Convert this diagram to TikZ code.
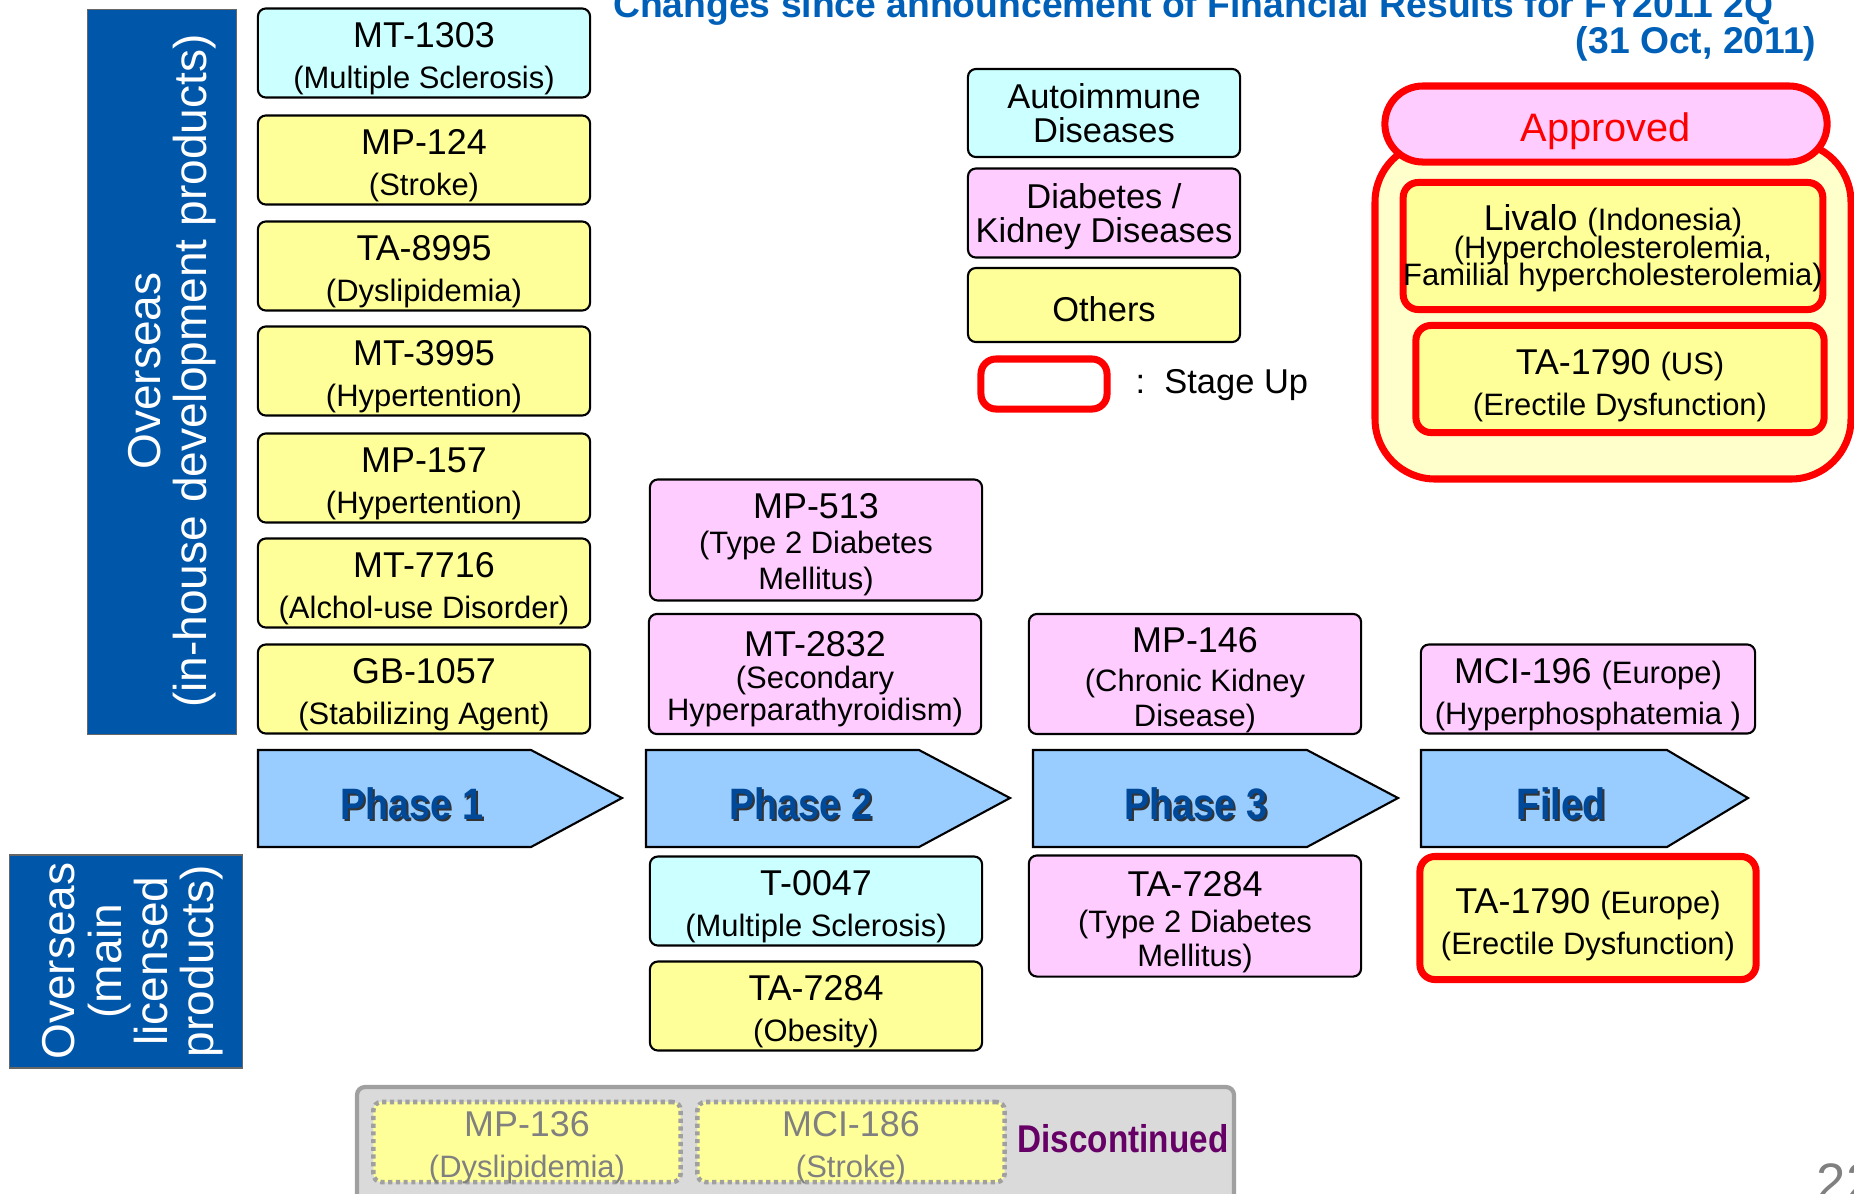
\documentclass[tikz,border=0pt]{standalone}
\usepackage{fontspec}
\setmainfont{Liberation Sans}
\newfontfamily\narrowfont[FakeStretch=0.86]{Liberation Sans}
\newcommand\drugfont{\fontsize{10.2}{11.6}\selectfont}
\newcommand\drugsub{\fontsize{8.8}{10.4}\selectfont}
\definecolor{autocol}{RGB}{204,255,255}
\definecolor{kidcol}{RGB}{255,204,255}
\definecolor{othcol}{RGB}{255,255,153}
\definecolor{phasecol}{RGB}{153,204,255}
\definecolor{phasetext}{RGB}{0,72,152}
\definecolor{boxblue}{RGB}{0,86,168}
\definecolor{titleblue}{RGB}{0,96,184}
\definecolor{stagered}{RGB}{255,0,0}
\definecolor{approvecol}{RGB}{255,255,204}
\definecolor{stopgray}{RGB}{218,218,218}
\definecolor{stopedge}{RGB}{160,160,160}
\definecolor{stoptext}{RGB}{128,128,128}
\definecolor{stoppurple}{RGB}{102,0,102}
\tikzset{
  cell/.style={draw, line width=0.6pt, rounded corners=0.08cm, minimum width=3.32cm,
    minimum height=0.89cm, inner sep=0pt, align=center, font=\drugfont},
  drug/.style={cell, text depth=0pt, text height=19.9pt},
  autobox/.style={drug, fill=autocol},
  kidbox/.style={drug, fill=kidcol},
  othbox/.style={drug, fill=othcol},
  legbox/.style={cell, minimum width=2.72cm, text depth=0pt, font=\fontsize{9.8}{11}\selectfont},
  stagebox/.style={draw=stagered, line width=2pt, rounded corners=0.15cm},
  bluebox/.style={fill=boxblue, draw=black!60, line width=0.4pt, minimum width=#1},
  bluetxt/.style={text=white, rotate=90, inner sep=0pt, align=center,
    font=\fontsize{13.1}{13.2}\selectfont},
  titletxt/.style={anchor=base east, inner sep=0pt, text=titleblue,
    font=\bfseries\fontsize{10.6}{12}\selectfont},
  phase/.style={fill=phasecol, draw=black, line width=0.6pt},
  phasetxt/.style={text=phasetext, font=\narrowfont\bfseries\fontsize{12.5}{14}\selectfont},
  phaseshadow/.style={phasetxt, text=black!80},
  stopbox/.style={drug, fill=othcol, draw=stopedge, line width=1.3pt,
    dash pattern=on 1.2pt off 1pt, text=stoptext, minimum width=3.07cm, minimum height=0.80cm}
}
\begin{document}
\begin{tikzpicture}[x=0.01cm,y=-0.01cm]
  \useasboundingbox (0,0) rectangle (1854,1193);

  \node[titletxt] (title) at (1774,17) {Changes since announcement of Financial Results for FY2011 2Q};
  \node[titletxt] (date) at (1817,53) {(31 Oct, 2011)};

  \node[bluebox=1.49cm, minimum height=7.245cm] (inhouse) at (162,372) {};
  \node[bluetxt] (inhousetxt) at (172,371) {Overseas\\(in-house development products)};
  \node[bluebox=2.325cm, minimum height=2.13cm] (licensed) at (126,961.5) {};
  \node[bluetxt] (licensedtxt) at (133,961) {Overseas\\(main\\licensed\\products)};

  \node[autobox] (mt1303) at (424,53) {MT-1303\\{\drugsub (Multiple Sclerosis)}};
  \node[othbox] (mp124) at (424,160) {MP-124\\{\drugsub (Stroke)}};
  \node[othbox] (ta8995) at (424,266) {TA-8995\\{\drugsub (Dyslipidemia)}};
  \node[othbox] (mt3995) at (424,371) {MT-3995\\{\drugsub (Hypertention)}};
  \node[othbox] (mp157) at (424,478) {MP-157\\{\drugsub (Hypertention)}};
  \node[othbox] (mt7716) at (424,583) {MT-7716\\{\drugsub (Alchol-use Disorder)}};
  \node[othbox] (gb1057) at (424,689) {GB-1057\\{\drugsub (Stabilizing Agent)}};

  \node[kidbox, text height=27.9pt, minimum height=1.21cm] (mp513) at (816,540) {MP-513\\[-1.5pt]{\drugsub (Type 2 Diabetes}\\[-1.5pt]{\drugsub Mellitus)}};
  \node[kidbox, text height=26.2pt, minimum height=1.20cm] (mt2832) at (815,674) {MT-2832\\[-2.5pt]{\drugsub (Secondary}\\[-2.5pt]{\drugsub Hyperparathyroidism)}};
  \node[autobox] (t0047) at (816,901) {T-0047\\{\drugsub (Multiple Sclerosis)}};
  \node[othbox] (ta7284o) at (816,1006) {TA-7284\\{\drugsub (Obesity)}};

  \node[kidbox, text height=29.9pt, minimum height=1.20cm] (mp146) at (1195,674) {MP-146\\[-0.5pt]{\drugsub (Chronic Kidney}\\[-1.5pt]{\drugsub Disease)}};
  \node[kidbox, text height=28.5pt, minimum height=1.21cm] (ta7284d) at (1195,916) {TA-7284\\[-1.5pt]{\drugsub (Type 2 Diabetes}\\[-2pt]{\drugsub Mellitus)}};

  \node[kidbox, minimum width=3.34cm] (mci196) at (1588,689) {MCI-196 {\drugsub (Europe)}\\{\drugsub (Hyperphosphatemia )}};
  \node[othbox, stagebox, text height=20.6pt, minimum width=3.36cm, minimum height=1.23cm] (ta1790eu) at (1588,918)
    {TA-1790 {\drugsub (Europe)}\\{\drugsub (Erectile Dysfunction)}};

  \filldraw[phase] (258,750) -- (531,750) -- (622,798) -- (531,847) -- (258,847) -- cycle;
  \filldraw[phase] (646,750) -- (919,750) -- (1010,798) -- (919,847) -- (646,847) -- cycle;
  \filldraw[phase] (1033,750) -- (1307,750) -- (1398,798) -- (1307,847) -- (1033,847) -- cycle;
  \filldraw[phase] (1421,750) -- (1667,750) -- (1748,798) -- (1667,847) -- (1421,847) -- cycle;
  \node[phaseshadow] (ph1s) at (414,806) {Phase 1};
  \node[phasetxt] (ph1) at (412,804) {Phase 1};
  \node[phaseshadow] (ph2s) at (803,806) {Phase 2};
  \node[phasetxt] (ph2) at (801,804) {Phase 2};
  \node[phaseshadow] (ph3s) at (1198,806) {Phase 3};
  \node[phasetxt] (ph3) at (1196,804) {Phase 3};
  \node[phaseshadow] (filedS) at (1563,806) {Filed};
  \node[phasetxt] (filed) at (1561,804) {Filed};

  \node[legbox, fill=autocol, minimum height=0.88cm] (legauto) at (1104,113) {Autoimmune\\[-1.5pt]Diseases};
  \node[legbox, fill=kidcol, minimum height=0.89cm] (legkid) at (1104,213) {Diabetes /\\[-1.5pt]Kidney Diseases};
  \node[legbox, fill=othcol, text height=9.2pt, minimum height=0.74cm] (legoth) at (1104,305) {Others};
  \node[stagebox, fill=white, minimum width=1.26cm, minimum height=0.50cm] (legstage) at (1044,384) {};
  \node[anchor=west, inner sep=0pt, font=\fontsize{9.8}{11}\selectfont] (stagetxt) at (1135,385) {:\ \ Stage Up};

  \draw[stagebox, fill=approvecol, rounded corners=0.6cm] (1375,142) rectangle (1851,479);
  \node[stagebox, fill=kidcol, rounded corners=0.38cm, minimum width=4.42cm, minimum height=0.76cm,
    text depth=0pt, text height=10.2pt, text=stagered, font=\fontsize{11.3}{13}\selectfont] (approved) at (1606,124) {Approved};
  \node[othbox, stagebox, text depth=0.5pt, text height={}, minimum width=4.16cm, minimum height=1.27cm] (livalo) at (1613,246)
    {Livalo {\drugsub (Indonesia)}\\[-3.7pt]{\drugsub (Hypercholesterolemia,}\\[-3.9pt]{\drugsub Familial hypercholesterolemia)}};
  \node[othbox, stagebox, text height=20.6pt, minimum width=4.08cm, minimum height=1.07cm] (ta1790us) at (1620,379)
    {TA-1790 {\drugsub (US)}\\{\drugsub (Erectile Dysfunction)}};

  \draw[fill=stopgray, draw=stopedge, line width=1.2pt, rounded corners=0.08cm] (357,1087) rectangle (1234,1215);
  \node[stopbox] (mp136) at (527,1142) {MP-136\\{\drugsub (Dyslipidemia)}};
  \node[stopbox] (mci186) at (851,1142) {MCI-186\\{\drugsub (Stroke)}};
  \node[text=stoppurple, font=\narrowfont\bfseries\fontsize{11}{13}\selectfont] (discont) at (1123,1139) {Discontinued};

  \node[anchor=north west, inner sep=0pt, text=stoptext, font=\fontsize{15}{16}\selectfont] (pagenum) at (1816,1163) {22};
\end{tikzpicture}
\end{document}
